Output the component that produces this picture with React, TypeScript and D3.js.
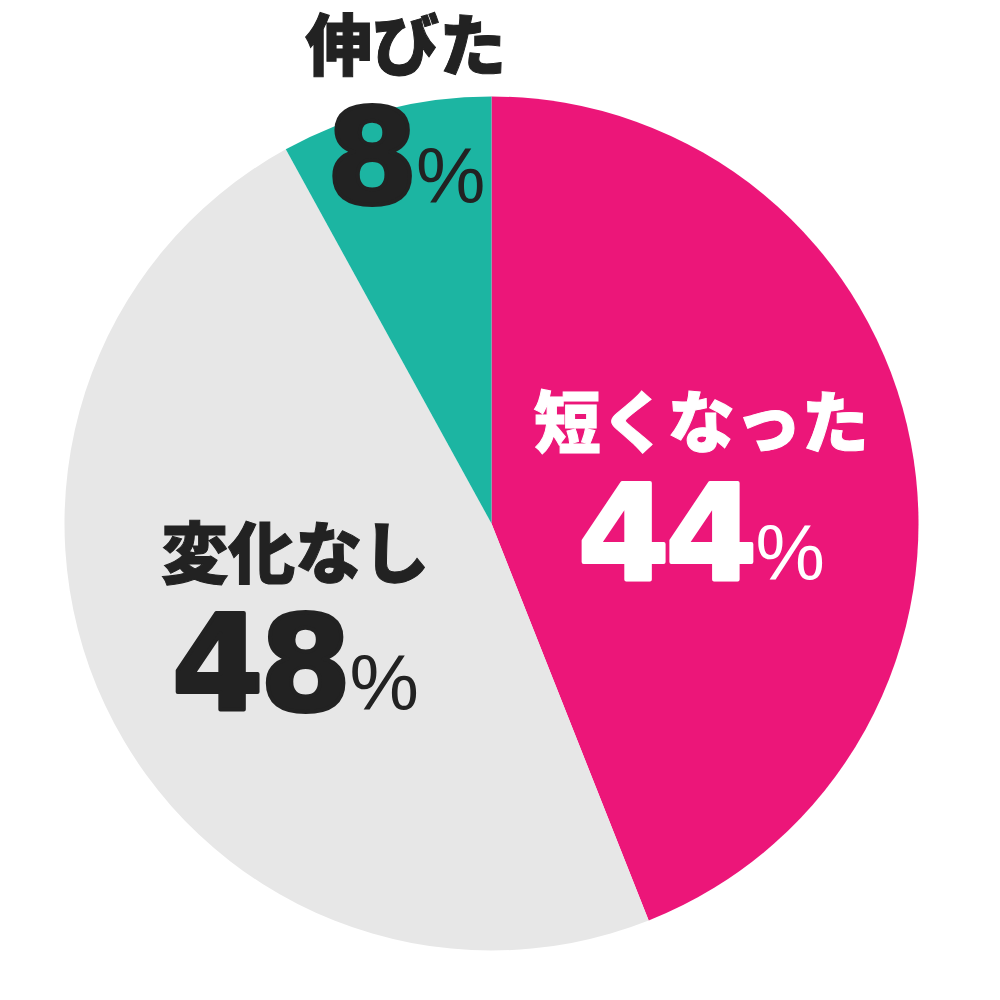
import React from "react";
import * as d3 from "d3";

const categories = ["短くなった", "変化なし", "伸びた"];
const values = [44, 48, 8];
const colors = ["#EC1679", "#E7E7E7", "#1CB5A2"];
const textColors = ["#FFFFFF", "#222222", "#222222"];

// layout constants for label placement (relative to slice centroid)
const labelRadius = [0.5, 0.5, 0.995];
const labelShift: [number, number][] = [
  [0, 0],
  [-3, 0],
  [20, -5],
];

const W = 1000;
const H = 1000;
const cx = 491.5;
const cy = 523.5;
const R = 427;

export default function App() {
  const pie = d3
    .pie<number>()
    .sort(null)
    .value((d) => d)
    .startAngle(0)
    .endAngle(2 * Math.PI);
  const arcs = pie(values);
  const arc = d3.arc<d3.PieArcDatum<number>>().innerRadius(0).outerRadius(R);

  return (
    <svg
      width={W}
      height={H}
      viewBox={`0 0 ${W} ${H}`}
      style={{ position: "absolute", left: 0, top: 0, background: "#fff" }}
    >
      <g transform={`translate(${cx},${cy})`}>
        {arcs.map((a, i) => (
          <path key={i} d={arc(a) || ""} fill={colors[i]} />
        ))}
        {arcs.map((a, i) => {
          const lr = labelRadius[i] * R;
          const c = d3
            .arc<d3.PieArcDatum<number>>()
            .innerRadius(lr)
            .outerRadius(lr)
            .centroid(a);
          const x = c[0] + labelShift[i][0];
          const y = c[1] + labelShift[i][1];
          return (
            <g key={"l" + i} fill={textColors[i]}>
              <text
                x={x}
                y={y - 66}
                textAnchor="middle"
                dominantBaseline="central"
                fontFamily="'Noto Sans CJK JP', sans-serif"
                fontWeight={900}
                fontSize={67}
                stroke={textColors[i]}
                strokeWidth={1}
              >
                {categories[i]}
              </text>
              <text
                x={x}
                y={y + 96}
                textAnchor="middle"
                fontFamily="'DejaVu Sans', sans-serif"
                fontWeight={700}
                fontSize={132}
                letterSpacing={-4}
                stroke={textColors[i]}
                strokeWidth={4}
                strokeLinejoin="round"
              >
                {values[i]}
                <tspan
                  fontFamily="'Liberation Sans', sans-serif"
                  fontWeight={400}
                  fontSize={78}
                  letterSpacing={0}
                  strokeWidth={0}
                  dx={2}
                >
                  %
                </tspan>
              </text>
            </g>
          );
        })}
      </g>
    </svg>
  );
}
